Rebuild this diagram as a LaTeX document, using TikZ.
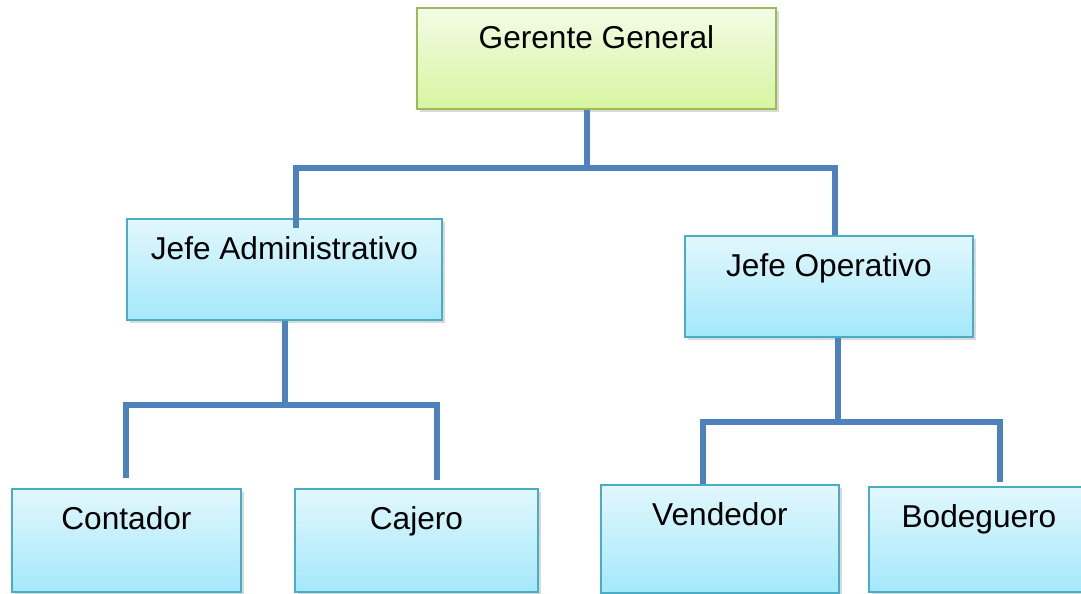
\documentclass[tikz,border=0pt]{standalone}
\usepackage{fontspec}
\setmainfont{Liberation Sans}
\usetikzlibrary{shadows}

\definecolor{busblue}{RGB}{79,129,189}
\definecolor{cyanline}{RGB}{75,172,198}
\definecolor{cyantop}{RGB}{226,247,253}
\definecolor{cyanbot}{RGB}{164,232,251}
\definecolor{greenline}{RGB}{155,187,89}
\definecolor{greentop}{RGB}{244,252,230}
\definecolor{greenbot}{RGB}{214,245,160}

\tikzset{
	orgbox/.style={rectangle, line width=1.1pt, anchor=north west,
		inner sep=0pt, text height=0.82cm, text depth=1.2cm,
		font=\fontsize{18}{21}\selectfont,
		drop shadow={opacity=0.3, shadow xshift=1.5pt, shadow yshift=-1.5pt}},
	bossbox/.style={orgbox, draw=greenline, top color=greentop, bottom color=greenbot},
	staffbox/.style={orgbox, draw=cyanline, top color=cyantop, bottom color=cyanbot},
	bus/.style={draw=busblue, line width=3.4pt}
}

\begin{document}
\begin{tikzpicture}[x=0.02cm, y=-0.02cm]
	% frame of the page
	\useasboundingbox (0,0) rectangle (1081,593);

	% boxes
	\node[bossbox, minimum width=7.18cm] (gg) at (416,7) {Gerente General};
	\node[staffbox, minimum width=6.3cm] (ja) at (126,218) {Jefe Administrativo};
	\node[staffbox, minimum width=5.76cm] (jo) at (684,235) {Jefe Operativo};
	\node[staffbox, minimum width=4.58cm, text depth=1.24cm] (co) at (11,488) {Contador};
	\node[staffbox, minimum width=4.86cm, text depth=1.24cm] (ca) at (294,488) {Cajero};
	\node[staffbox, minimum width=4.76cm, text depth=1.34cm] (ve) at (600,484) {Vendedor};
	\node[staffbox, minimum width=4.4cm, text depth=1.28cm] (bo) at (868,486) {Bodeguero};

	% junctions
	\coordinate (g0) at (587,168);
	\coordinate (gl) at (296,168);
	\coordinate (gr) at (835,168);
	\coordinate (a0) at (285,405);
	\coordinate (al) at (126,405);
	\coordinate (ar) at (437,405);
	\coordinate (o0) at (838,422);
	\coordinate (ol) at (703,422);
	\coordinate (or) at (1000,422);

	% Gerente General
	\draw[bus] (gg.south -| g0) -- (g0);
	\draw[bus]
		  ([yshift=-0.2cm]gl |- ja.north)
		-- (gl)
		-- (gr)
		-- (gr |- jo.north);

	% Jefe Administrativo
	\draw[bus] (ja.south -| a0) -- (a0);
	\draw[bus]
		  ([yshift=0.2cm]al |- co.north)
		-- (al)
		-- (ar)
		-- ([yshift=0.16cm]ar |- ca.north);

	% Jefe Operativo
	\draw[bus] (jo.south -| o0) -- (o0);
	\draw[bus]
		  (ol |- ve.north)
		-- (ol)
		-- (or)
		-- ([yshift=0.08cm]or |- bo.north);
\end{tikzpicture}
\end{document}
